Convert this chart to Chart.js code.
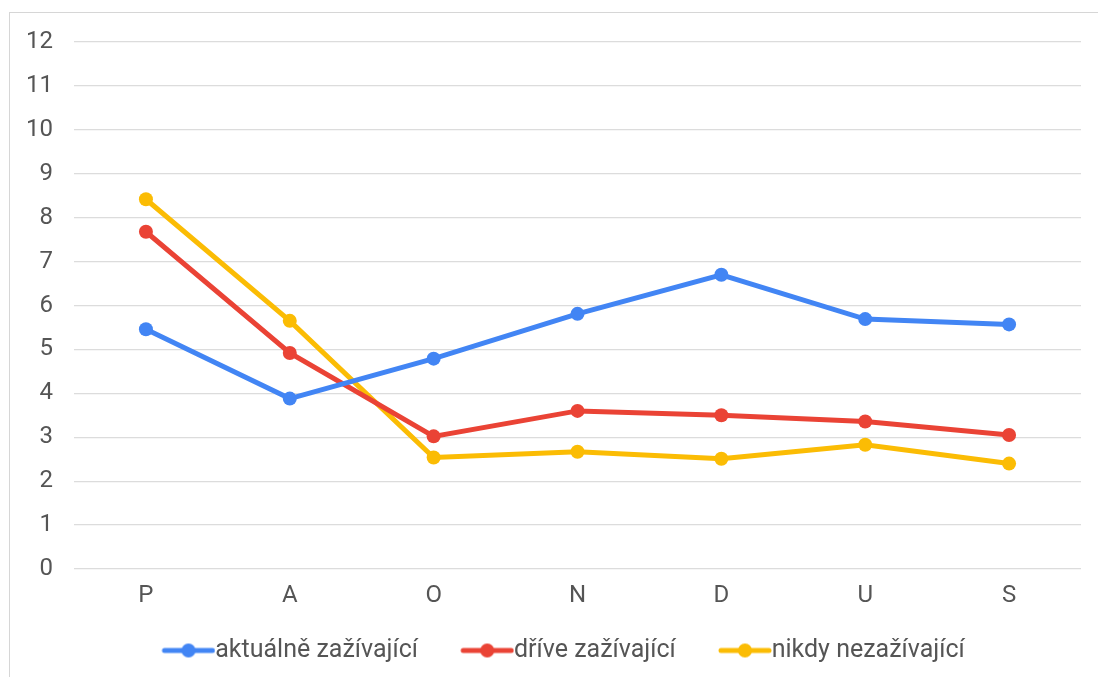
<!DOCTYPE html>
<html>
<head>
<meta charset="utf-8">
<script src="https://cdn.jsdelivr.net/npm/chart.js@4.4.1/dist/chart.umd.min.js"></script>
<style>
  html, body { margin: 0; padding: 0; background: #fff; overflow: hidden; }
  #wrap { position: relative; width: 1098px; height: 677px; }
  #frame { position: absolute; left: 9px; top: 12px; width: 1200px; height: 800px; border: 1.5px solid #d6d6d6; box-sizing: border-box; pointer-events: none; }
  canvas { position: absolute; left: 0; top: 0; }
</style>
</head>
<body>
<div id="wrap">
  <div id="frame"></div>
  <canvas id="c" width="1098" height="677"></canvas>
</div>
<script>
const categories = ["P", "A", "O", "N", "D", "U", "S"];
const seriesNames = ["aktuálně zažívající", "dříve zažívající", "nikdy nezažívající"];
const aktualne = [5.46, 3.88, 4.79, 5.81, 6.70, 5.69, 5.57];
const drive = [7.68, 4.92, 3.02, 3.60, 3.50, 3.36, 3.05];
const nikdy = [8.42, 5.65, 2.54, 2.67, 2.51, 2.83, 2.40];
const yTicks = [0, 1, 2, 3, 4, 5, 6, 7, 8, 9, 10, 11, 12];

const colors = ["#4285F4", "#EA4335", "#FBBC04"];
const FONT = "Roboto, 'Noto Sans', sans-serif";
const FS = 24;
const LFS = 25;
const TXT = '#555555';
const BW = 63.5;

function legendIcon(color) {
  const iw = Math.round(BW + LFS);
  const cv = document.createElement('canvas');
  cv.width = iw; cv.height = 16;
  const g = cv.getContext('2d');
  g.strokeStyle = color; g.lineWidth = 5; g.lineCap = 'round';
  g.beginPath(); g.moveTo(iw - 51, 8); g.lineTo(iw - 3, 8); g.stroke();
  g.fillStyle = color;
  g.beginPath(); g.arc(iw - 27, 8, 7, 0, Math.PI * 2); g.fill();
  return cv;
}

const data = [aktualne, drive, nikdy];
const datasets = data.map((d, i) => ({
  label: seriesNames[i],
  data: d,
  borderColor: colors[i],
  backgroundColor: colors[i],
  borderWidth: 5,
  pointRadius: 7,
  pointHoverRadius: 7,
  pointBorderWidth: 0,
  tension: 0,
  pointStyle: 'circle',
  icon: legendIcon(colors[i])
}));

new Chart(document.getElementById('c'), {
  type: 'line',
  data: { labels: categories, datasets },
  options: {
    responsive: false,
    animation: false,
    layout: { padding: { left: 23, right: 17, top: 42, bottom: 4 } },
    plugins: {
      tooltip: { enabled: false },
      legend: {
        position: 'bottom',
        labels: {
          font: { family: FONT, size: LFS },
          color: TXT,
          usePointStyle: true,
          pointStyleWidth: BW,
          boxHeight: 16,
          padding: 20,
          generateLabels: (chart) => chart.data.datasets.map((ds, i) => ({
            text: ds.label,
            fillStyle: ds.borderColor,
            strokeStyle: ds.borderColor,
            lineWidth: 0,
            pointStyle: ds.icon,
            hidden: false,
            datasetIndex: i,
            fontColor: TXT
          }))
        }
      }
    },
    scales: {
      x: {
        offset: true,
        afterFit: (s) => { s.height = 49; },
        grid: { display: false, drawTicks: false },
        border: { display: false },
        ticks: { font: { family: FONT, size: FS }, color: TXT, padding: 13 }
      },
      y: {
        min: 0, max: 12,
        afterFit: (s) => { s.width = 51; },
        afterBuildTicks: (s) => { s.ticks = yTicks.map(v => ({ value: v })); },
        grid: { color: '#dcdcdc', lineWidth: 1.2, drawTicks: false },
        border: { display: false },
        ticks: { font: { family: FONT, size: FS }, color: TXT, padding: 21, stepSize: 1 }
      }
    }
  }
});
</script>
</body>
</html>
